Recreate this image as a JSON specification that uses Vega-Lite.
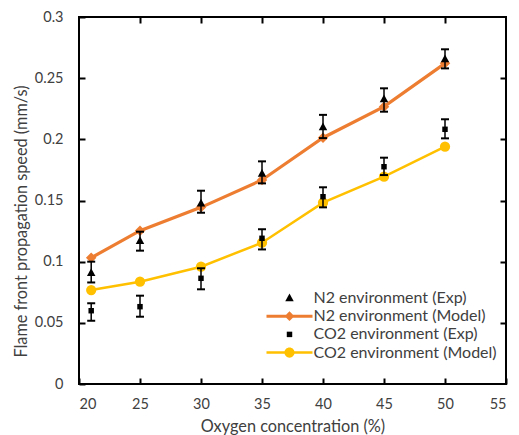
{
  "$schema": "https://vega.github.io/schema/vega-lite/v6.json",
  "width": 427,
  "height": 367,
  "autosize": "none",
  "padding": {"left": 79, "top": 17, "right": 13, "bottom": 51},
  "config": {
    "view": {"stroke": "#000000", "strokeWidth": 2},
    "font": "Lato",
    "axis": {"grid": false, "domain": false, "labelFont": "Lato", "titleFont": "Lato", "labelFontSize": 14.5, "titleFontSize": 16.3, "labelColor": "#404040", "titleColor": "#404040", "titleFontWeight": "normal", "tickColor": "#000000", "tickWidth": 2, "tickSize": -6}
  },
  "datasets": {
    "exp": [
      {"o": 21, "series": "N2 environment (Exp)", "v": 0.091, "lo": 0.083, "hi": 0.1},
      {"o": 25, "series": "N2 environment (Exp)", "v": 0.117, "lo": 0.109, "hi": 0.1245},
      {"o": 30, "series": "N2 environment (Exp)", "v": 0.1477, "lo": 0.14, "hi": 0.158},
      {"o": 35, "series": "N2 environment (Exp)", "v": 0.172, "lo": 0.164, "hi": 0.182},
      {"o": 40, "series": "N2 environment (Exp)", "v": 0.21, "lo": 0.201, "hi": 0.22},
      {"o": 45, "series": "N2 environment (Exp)", "v": 0.233, "lo": 0.2226, "hi": 0.2417},
      {"o": 50, "series": "N2 environment (Exp)", "v": 0.2657, "lo": 0.258, "hi": 0.2736},
      {"o": 21, "series": "CO2 environment (Exp)", "v": 0.0599, "lo": 0.0517, "hi": 0.066},
      {"o": 25, "series": "CO2 environment (Exp)", "v": 0.0632, "lo": 0.055, "hi": 0.0722},
      {"o": 30, "series": "CO2 environment (Exp)", "v": 0.0864, "lo": 0.0774, "hi": 0.0946},
      {"o": 35, "series": "CO2 environment (Exp)", "v": 0.1191, "lo": 0.11, "hi": 0.1265},
      {"o": 40, "series": "CO2 environment (Exp)", "v": 0.1531, "lo": 0.1444, "hi": 0.1608},
      {"o": 45, "series": "CO2 environment (Exp)", "v": 0.1776, "lo": 0.1708, "hi": 0.185},
      {"o": 50, "series": "CO2 environment (Exp)", "v": 0.2082, "lo": 0.2008, "hi": 0.2164}
    ],
    "model": [
      {"o": 21, "series": "N2 environment (Model)", "v": 0.1032},
      {"o": 25, "series": "N2 environment (Model)", "v": 0.1253},
      {"o": 30, "series": "N2 environment (Model)", "v": 0.1444},
      {"o": 35, "series": "N2 environment (Model)", "v": 0.1668},
      {"o": 40, "series": "N2 environment (Model)", "v": 0.2013},
      {"o": 45, "series": "N2 environment (Model)", "v": 0.2267},
      {"o": 50, "series": "N2 environment (Model)", "v": 0.2621},
      {"o": 21, "series": "CO2 environment (Model)", "v": 0.0768},
      {"o": 25, "series": "CO2 environment (Model)", "v": 0.0836},
      {"o": 30, "series": "CO2 environment (Model)", "v": 0.0959},
      {"o": 35, "series": "CO2 environment (Model)", "v": 0.1155},
      {"o": 40, "series": "CO2 environment (Model)", "v": 0.1482},
      {"o": 45, "series": "CO2 environment (Model)", "v": 0.1695},
      {"o": 50, "series": "CO2 environment (Model)", "v": 0.194}
    ]
  },
  "resolve": {"axis": {"x": "independent", "y": "independent"}},
  "layer": [
    {
      "data": {"name": "exp"},
      "mark": {"type": "point", "opacity": 0},
      "encoding": {
        "x": {"field": "o", "type": "quantitative", "scale": {"domain": [20, 55], "nice": false},
              "axis": {"orient": "top", "labels": false, "title": null, "values": [25, 30, 35, 40, 45, 50]}},
        "y": {"field": "v", "type": "quantitative", "scale": {"domain": [0, 0.3], "nice": false},
              "axis": {"orient": "right", "labels": false, "title": null, "values": [0.05, 0.1, 0.15, 0.2, 0.25]}}
      }
    },
    {
      "layer": [
        {
          "data": {"name": "model"},
          "transform": [{"filter": "datum.series == 'N2 environment (Model)'"}],
          "mark": {"type": "line", "color": "#ED7D31", "strokeWidth": 3.2},
          "encoding": {
            "x": {"field": "o", "type": "quantitative", "scale": {"domain": [20, 55], "nice": false},
                  "axis": {"title": "Oxygen concentration (%)", "values": [20, 25, 30, 35, 40, 45, 50, 55], "labelPadding": 19, "titleY": 42, "titleBaseline": "middle"}},
            "y": {"field": "v", "type": "quantitative", "scale": {"domain": [0, 0.3], "nice": false},
                  "axis": {"title": "Flame front propagation speed (mm/s)", "format": ".2~f", "values": [0, 0.05, 0.1, 0.15, 0.2, 0.25, 0.3], "labelPadding": 22, "titleX": -58, "titleY": 204, "titleBaseline": "middle", "titleAlign": "center"}}
          }
        },
        {
          "data": {"name": "model"},
          "transform": [{"filter": "datum.series == 'CO2 environment (Model)'"}],
          "mark": {"type": "line", "color": "#FFC000", "strokeWidth": 2.5},
          "encoding": {
            "x": {"field": "o", "type": "quantitative"},
            "y": {"field": "v", "type": "quantitative"}
          }
        },
        {
          "data": {"name": "model"},
          "transform": [{"filter": "datum.series == 'N2 environment (Model)'"}],
          "mark": {"type": "point", "shape": "diamond", "filled": true, "color": "#ED7D31", "size": 110, "opacity": 1},
          "encoding": {
            "x": {"field": "o", "type": "quantitative"},
            "y": {"field": "v", "type": "quantitative"}
          }
        },
        {
          "data": {"name": "model"},
          "transform": [{"filter": "datum.series == 'CO2 environment (Model)'"}],
          "mark": {"type": "point", "shape": "circle", "filled": true, "color": "#FFC000", "size": 105, "opacity": 1},
          "encoding": {
            "x": {"field": "o", "type": "quantitative"},
            "y": {"field": "v", "type": "quantitative"}
          }
        },
        {
          "data": {"name": "exp"},
          "mark": {"type": "rule", "color": "#000000", "strokeWidth": 1.5},
          "encoding": {
            "x": {"field": "o", "type": "quantitative"},
            "y": {"field": "lo", "type": "quantitative"},
            "y2": {"field": "hi"}
          }
        },
        {
          "data": {"name": "exp"},
          "mark": {"type": "tick", "orient": "horizontal", "color": "#000000", "size": 8, "thickness": 2, "opacity": 1},
          "encoding": {
            "x": {"field": "o", "type": "quantitative"},
            "y": {"field": "lo", "type": "quantitative"}
          }
        },
        {
          "data": {"name": "exp"},
          "mark": {"type": "tick", "orient": "horizontal", "color": "#000000", "size": 8, "thickness": 2, "opacity": 1},
          "encoding": {
            "x": {"field": "o", "type": "quantitative"},
            "y": {"field": "hi", "type": "quantitative"}
          }
        },
        {
          "data": {"name": "exp"},
          "mark": {"type": "point", "filled": true, "size": 169, "opacity": 1, "strokeWidth": 0},
          "encoding": {
            "x": {"field": "o", "type": "quantitative"},
            "y": {"field": "v", "type": "quantitative"},
            "color": {"field": "series", "type": "nominal",
              "scale": {"domain": ["N2 environment (Exp)", "N2 environment (Model)", "CO2 environment (Exp)", "CO2 environment (Model)"],
                        "range": ["#000000", "#ED7D31", "#000000", "#FFC000"]},
              "legend": {"title": null, "orient": "none", "legendX": 202.5, "legendY": 273, "padding": 0, "rowPadding": 2.2,
                         "labelFont": "Lato", "labelFontSize": 16, "labelColor": "#404040", "labelOffset": 16, "labelLimit": 0, "symbolSize": 169, "symbolStrokeWidth": 0, "symbolOpacity": 1}},
            "shape": {"field": "series", "type": "nominal",
              "scale": {"domain": ["N2 environment (Exp)", "N2 environment (Model)", "CO2 environment (Exp)", "CO2 environment (Model)"],
                        "range": ["M0,-0.7 L0.65,0.5 L-0.65,0.5 Z",
                                  "M-3.54,-0.23 H3.54 V0.23 H-3.54 Z M0,-0.75 L0.75,0 L0,0.75 L-0.75,0 Z",
                                  "M-0.42,-0.42 H0.42 V0.42 H-0.42 Z",
                                  "M-3.54,-0.19 H3.54 V0.19 H-3.54 Z M0.78,0 A0.78,0.78 0 1,1 -0.78,0 A0.78,0.78 0 1,1 0.78,0 Z"]},
              "legend": {"title": null}}
          }
        }
      ]
    }
  ]
}
